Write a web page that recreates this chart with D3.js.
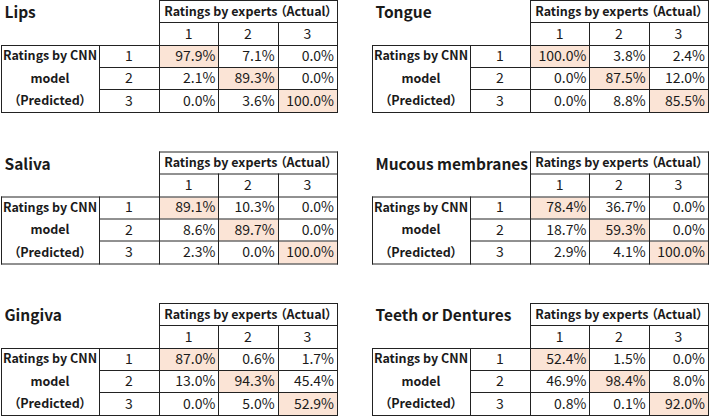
<!DOCTYPE html>
<html>
<head>
<meta charset="utf-8">
<script src="https://cdn.jsdelivr.net/npm/d3@7"></script>
<style>
  html, body { margin: 0; padding: 0; background: #ffffff; }
  svg { display: block; }
  text { font-family: "Noto Sans CJK JP", "Noto Sans", sans-serif; fill: #1a1a1a; font-feature-settings: "palt"; }
</style>
</head>
<body>
<svg id="chart" width="709" height="416"></svg>
<script>
// ---------- data ----------
const panelTitles = ["Lips", "Tongue", "Saliva", "Mucous membranes", "Gingiva", "Teeth or Dentures"];
const classLabels = ["1", "2", "3"];
const actualHeader = "Ratings by experts （Actual）";
const predictedLabel = ["Ratings by CNN", "model", "（Predicted）"];

// rows = predicted (CNN), columns = actual (experts), values in %
const lips     = [[97.9, 7.1, 0.0], [2.1, 89.3, 0.0], [0.0, 3.6, 100.0]];
const tongue   = [[100.0, 3.8, 2.4], [0.0, 87.5, 12.0], [0.0, 8.8, 85.5]];
const saliva   = [[89.1, 10.3, 0.0], [8.6, 89.7, 0.0], [2.3, 0.0, 100.0]];
const mucous   = [[78.4, 36.7, 0.0], [18.7, 59.3, 0.0], [2.9, 4.1, 100.0]];
const gingiva  = [[87.0, 0.6, 1.7], [13.0, 94.3, 45.4], [0.0, 5.0, 52.9]];
const teeth    = [[52.4, 1.5, 0.0], [46.9, 98.4, 8.0], [0.8, 0.1, 92.0]];
const matrices = [lips, tongue, saliva, mucous, gingiva, teeth];

// ---------- layout ----------
const svg = d3.select("#chart");
const panelX = d3.scalePoint().domain([0, 1]).range([0, 371]);
const panelY = d3.scalePoint().domain([0, 1, 2]).range([0, 303]);

const tableLeft = 1, labelDiv = 99, colStart = 159, colEnd = 337;
const rowH = 22.35;

const xCol = d3.scaleBand().domain(classLabels).range([colStart, colEnd]);
// rows: header, numbers, then three predicted rows
const yRow = d3.scaleBand().domain(["h", "n", "1", "2", "3"]).range([0, rowH * 5]);

const fillDiag = "#fbe4d6";
const stroke = "#222";
const px = v => Math.round(v) + 0.5;

matrices.forEach((m, i) => {
  const g = svg.append("g")
    .attr("transform", `translate(${panelX(i % 2)},${panelY(Math.floor(i / 2))})`);

  // diagonal highlights
  classLabels.forEach((r, ri) => {
    const c = classLabels[ri];
    g.append("rect")
      .attr("x", Math.round(xCol(c)) + 1)
      .attr("y", Math.round(yRow(r)) + 1)
      .attr("width", Math.round(xCol(c) + xCol.bandwidth()) - Math.round(xCol(c)) - 1)
      .attr("height", Math.round(yRow(r) + yRow.bandwidth()) - Math.round(yRow(r)) - 1)
      .attr("fill", fillDiag);
  });

  // title
  g.append("text")
    .attr("x", 4.5).attr("y", 18)
    .attr("font-size", 15.5).attr("font-weight", 700)
    .text(panelTitles[i]);

  const lines = g.append("g").attr("stroke", stroke).attr("stroke-width", 1).attr("fill", "none");
  const hl = (x1, x2, y) => lines.append("line").attr("x1", px(x1) - 0.5).attr("x2", px(x2) + 0.5).attr("y1", px(y)).attr("y2", px(y));
  const vl = (x, y1, y2) => lines.append("line").attr("x1", px(x)).attr("x2", px(x)).attr("y1", px(y1) - 0.5).attr("y2", px(y2) + 0.5);

  const yTop = yRow("h"), yNum = yRow("n"), yD = yRow("1"), yBot = yRow("3") + yRow.bandwidth();
  hl(colStart, colEnd, yTop);
  hl(colStart, colEnd, yNum);
  hl(tableLeft, colEnd, yD);
  hl(labelDiv, colEnd, yRow("2"));
  hl(labelDiv, colEnd, yRow("3"));
  hl(tableLeft, colEnd, yBot);
  vl(colStart, yTop, yBot);
  vl(colEnd, yTop, yBot);
  vl(tableLeft, yD, yBot);
  vl(labelDiv, yD, yBot);
  classLabels.slice(1).forEach(c => vl(xCol(c), yNum, yBot));

  // header text
  g.append("text")
    .attr("x", (colStart + colEnd) / 2)
    .attr("y", yTop + yRow.bandwidth() / 2 + 4.5)
    .attr("text-anchor", "middle")
    .attr("font-size", 12.5).attr("font-weight", 700)
    .text(actualHeader);

  // column numbers
  g.selectAll(".cn").data(classLabels).join("text")
    .attr("x", d => xCol(d) + xCol.bandwidth() / 2)
    .attr("y", yNum + yRow.bandwidth() / 2 + 5)
    .attr("text-anchor", "middle").attr("font-size", 14)
    .text(d => d);

  // row numbers
  g.selectAll(".rn").data(classLabels).join("text")
    .attr("x", (labelDiv + colStart) / 2)
    .attr("y", d => yRow(d) + yRow.bandwidth() / 2 + 5)
    .attr("text-anchor", "middle").attr("font-size", 14)
    .text(d => d);

  // predicted label
  g.selectAll(".pl").data(predictedLabel).join("text")
    .attr("x", (tableLeft + labelDiv) / 2)
    .attr("y", (d, k) => yRow(classLabels[k]) + yRow.bandwidth() / 2 + 4.5)
    .attr("text-anchor", "middle")
    .attr("font-size", 12.5).attr("font-weight", 700)
    .text(d => d);

  // values
  m.forEach((row, ri) => {
    row.forEach((v, ci) => {
      g.append("text")
        .attr("x", xCol(classLabels[ci]) + xCol.bandwidth() - 3)
        .attr("y", yRow(classLabels[ri]) + yRow.bandwidth() / 2 + 5)
        .attr("text-anchor", "end").attr("font-size", 14)
        .text(d3.format(".1f")(v) + "%");
    });
  });
});
</script>
</body>
</html>
